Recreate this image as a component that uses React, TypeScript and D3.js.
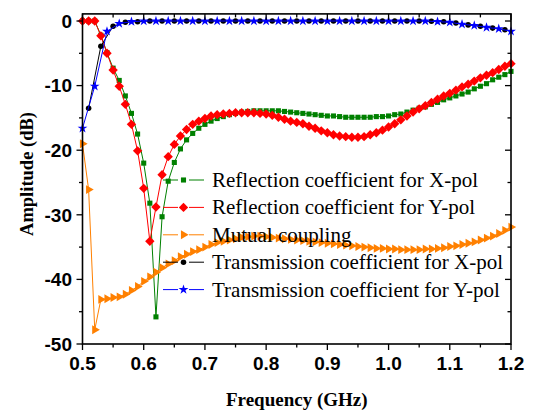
import React from 'react';
import * as d3 from 'd3';

// sweep frequencies (GHz), one sample every 10 MHz
const freq = [
  0.50, 0.51, 0.52, 0.53, 0.54, 0.55, 0.56, 0.57, 0.58, 0.59,
  0.60, 0.61, 0.62, 0.63, 0.64, 0.65, 0.66, 0.67, 0.68, 0.69,
  0.70, 0.71, 0.72, 0.73, 0.74, 0.75, 0.76, 0.77, 0.78, 0.79,
  0.80, 0.81, 0.82, 0.83, 0.84, 0.85, 0.86, 0.87, 0.88, 0.89,
  0.90, 0.91, 0.92, 0.93, 0.94, 0.95, 0.96, 0.97, 0.98, 0.99,
  1.00, 1.01, 1.02, 1.03, 1.04, 1.05, 1.06, 1.07, 1.08, 1.09,
  1.10, 1.11, 1.12, 1.13, 1.14, 1.15, 1.16, 1.17, 1.18, 1.19, 1.20,
];

const reflX = [
  0, 0, 0, -2.2, -4.9, -7.3, -9.2, -11.6, -14.3, -17.5,
  -22.0, -28.2, -45.8, -30.3, -24.8, -21.9, -19.8, -18.4, -17.4, -16.6,
  -16.0, -15.5, -15.1, -14.8, -14.5, -14.3, -14.1, -14.0, -13.9, -13.9,
  -13.9, -13.9, -13.9, -14.0, -14.1, -14.2, -14.3, -14.4, -14.5, -14.6,
  -14.7, -14.7, -14.8, -14.9, -14.9, -14.9, -14.9, -14.9, -14.8, -14.8,
  -14.7, -14.5, -14.4, -14.1, -13.8, -13.5, -13.3, -12.9, -12.6, -12.2,
  -11.9, -11.6, -11.3, -11.0, -10.5, -10.1, -9.7, -9.1, -8.7, -8.3, -7.8,
];

const reflY = [
  0, 0, 0, -2.3, -5.0, -7.6, -10.1, -12.9, -16.0, -20.1,
  -25.9, -34.1, -28.8, -23.8, -21.0, -19.1, -17.8, -16.8, -16.0, -15.5,
  -15.1, -14.7, -14.5, -14.4, -14.3, -14.2, -14.2, -14.2, -14.2, -14.3,
  -14.4, -14.6, -14.9, -15.2, -15.5, -15.7, -15.9, -16.3, -16.6, -17.0,
  -17.3, -17.6, -17.8, -17.9, -18.0, -18.0, -17.9, -17.6, -17.3, -16.9,
  -16.4, -15.9, -15.3, -14.7, -14.1, -13.6, -13.1, -12.6, -12.1, -11.6,
  -11.2, -10.7, -10.2, -9.8, -9.3, -8.8, -8.4, -8.0, -7.5, -7.0, -6.6,
];

const mutual = [
  -19.0, -26.1, -47.8, -43.1, -43.0, -42.8, -42.7, -42.3, -41.7, -41.1,
  -40.3, -39.6, -38.9, -38.2, -37.6, -37.1, -36.5, -36.1, -35.7, -35.4,
  -35.0, -34.6, -34.3, -34.1, -33.9, -33.7, -33.5, -33.4, -33.3, -33.3,
  -33.4, -33.5, -33.6, -33.7, -33.8, -33.9, -34.0, -34.1, -34.2, -34.3,
  -34.4, -34.5, -34.6, -34.7, -34.8, -34.9, -35.0, -35.1, -35.2, -35.2,
  -35.3, -35.3, -35.4, -35.4, -35.4, -35.4, -35.3, -35.3, -35.2, -35.1,
  -34.9, -34.8, -34.6, -34.4, -34.2, -33.9, -33.6, -33.3, -32.9, -32.4, -31.9,
];

// transmission curves were sampled every 20 MHz, X on odd steps, Y on even ones
const transXFreq = freq.filter((_, i) => i % 2 === 1);
const transX = [
  -13.5, -3.9, -0.8, -0.2, -0.1, 0, 0, 0, 0, 0,
  0, 0, 0, 0, 0, 0, 0, 0, 0, 0,
  0, 0, 0, 0, 0, 0, 0, 0, -0.05, -0.1,
  -0.3, -0.6, -0.8, -1.1, -1.35,
];
const transYFreq = freq.filter((_, i) => i % 2 === 0);
const transY = [
  -16.6, -10.1, -1.6, -0.4, -0.1, 0, 0, 0, 0, 0,
  0, 0, 0, 0, 0, 0, 0, 0, 0, 0,
  0, 0, 0, 0, 0, 0, 0, 0, 0, -0.1,
  -0.2, -0.5, -0.7, -1.0, -1.2, -1.6,
];

const legendLabels = [
  'Reflection coefficient for X-pol',
  'Reflection coefficient for Y-pol',
  'Mutual coupling',
  'Transmission coefficient for X-pol',
  'Transmission coefficient for Y-pol',
];

const xTicks = [0.5, 0.6, 0.7, 0.8, 0.9, 1.0, 1.1, 1.2];
const xMinor = [0.55, 0.65, 0.75, 0.85, 0.95, 1.05, 1.15];
const yTicks = [0, -10, -20, -30, -40, -50];
const yMinor = [-5, -15, -25, -35, -45];

const W = 533, H = 412;
const left = 82.5, right = 511, top = 13.9, bottom = 344;

type Marker = 'square' | 'diamond' | 'triangle' | 'dot' | 'star';

const markerPath = (m: Marker) => {
  switch (m) {
    case 'square': return d3.symbol(d3.symbolSquare, 26)()!;
    case 'diamond': return d3.symbol(d3.symbolSquare, 44)()!;
    case 'triangle': return d3.symbol(d3.symbolTriangle, 34)()!;
    case 'dot': return d3.symbol(d3.symbolCircle, 24)()!;
    case 'star': return d3.symbol(d3.symbolStar, 30)()!;
  }
};
const markerRot = (m: Marker) => (m === 'diamond' ? 45 : m === 'triangle' ? 90 : 0);

export default function App() {
  const x = d3.scaleLinear().domain([0.5, 1.2]).range([left, right]);
  const y = d3.scaleLinear().domain([-50, 1.1]).range([bottom, top]);

  const series = [
    { f: freq, v: reflX, color: '#008000', marker: 'square' as Marker },
    { f: freq, v: reflY, color: '#ff0000', marker: 'diamond' as Marker },
    { f: freq, v: mutual, color: '#ff8000', marker: 'triangle' as Marker },
    { f: transXFreq, v: transX, color: '#000000', marker: 'dot' as Marker },
    { f: transYFreq, v: transY, color: '#0000ff', marker: 'star' as Marker },
  ];

  const line = d3.line<[number, number]>().x(d => x(d[0])).y(d => y(d[1]));

  const legendY = (i: number) => 180 + i * 27.4;

  return (
    <svg width={W} height={H} style={{ position: 'absolute', left: 0, top: 0, background: '#fff' }}>
      {series.map((s, si) => {
        const pts = s.f.map((f, i) => [f, s.v[i]] as [number, number]);
        const path = markerPath(s.marker);
        return (
          <g key={si}>
            <path d={line(pts)!} fill="none" stroke={s.color} strokeWidth={1} />
            {pts.map((p, i) => (
              <path key={i} d={path} fill={s.color}
                transform={`translate(${x(p[0])},${y(p[1])}) rotate(${markerRot(s.marker)})`} />
            ))}
          </g>
        );
      })}

      {/* frame */}
      <rect x={left} y={top} width={right - left} height={bottom - top} fill="none" stroke="#000" strokeWidth={1.6} />

      {/* ticks: outward on bottom/left, inward on top/right */}
      <g stroke="#000" strokeWidth={1.3}>
        {xTicks.map(t => (
          <g key={t}>
            <line x1={x(t)} x2={x(t)} y1={bottom} y2={bottom + 6} />
            <line x1={x(t)} x2={x(t)} y1={top} y2={top + 6} />
          </g>
        ))}
        {xMinor.map(t => (
          <g key={t}>
            <line x1={x(t)} x2={x(t)} y1={bottom} y2={bottom + 3.5} />
            <line x1={x(t)} x2={x(t)} y1={top} y2={top + 3.5} />
          </g>
        ))}
        {yTicks.map(t => (
          <g key={t}>
            <line x1={left - 6} x2={left} y1={y(t)} y2={y(t)} />
            <line x1={right - 6} x2={right} y1={y(t)} y2={y(t)} />
          </g>
        ))}
        {yMinor.map(t => (
          <g key={t}>
            <line x1={left - 3.5} x2={left} y1={y(t)} y2={y(t)} />
            <line x1={right - 3.5} x2={right} y1={y(t)} y2={y(t)} />
          </g>
        ))}
      </g>

      <g fontFamily="'Liberation Sans', Arial, sans-serif" fontWeight="bold" fontSize={19} fill="#000">
        {xTicks.map(t => (
          <text key={t} x={x(t)} y={370} textAnchor="middle">{t.toFixed(1)}</text>
        ))}
        {yTicks.map(t => (
          <text key={t} x={72} y={y(t)} dy="0.36em" textAnchor="end">{t}</text>
        ))}
      </g>

      <g fontFamily="'Liberation Serif', 'Times New Roman', serif" fontWeight="bold" fill="#000">
        <text x={(left + right) / 2} y={406} fontSize={19} textAnchor="middle">Frequency (GHz)</text>
        <text transform="translate(33,174) rotate(-90)" fontSize={18.5} textAnchor="middle">Amplitude (dB)</text>
      </g>

      {/* legend */}
      <g fontFamily="'Liberation Serif', 'Times New Roman', serif" fontSize={21} fill="#000">
        {series.map((s, i) => (
          <g key={i} transform={`translate(0,${legendY(i)})`}>
            <line x1={163} x2={178} y1={0} y2={0} stroke={s.color} strokeWidth={1} />
            <line x1={189} x2={204} y1={0} y2={0} stroke={s.color} strokeWidth={1} />
            <path d={markerPath(s.marker)} fill={s.color}
              transform={`translate(183.5,0) rotate(${markerRot(s.marker)})`} />
            <text x={212} y={7}>{legendLabels[i]}</text>
          </g>
        ))}
      </g>
    </svg>
  );
}
